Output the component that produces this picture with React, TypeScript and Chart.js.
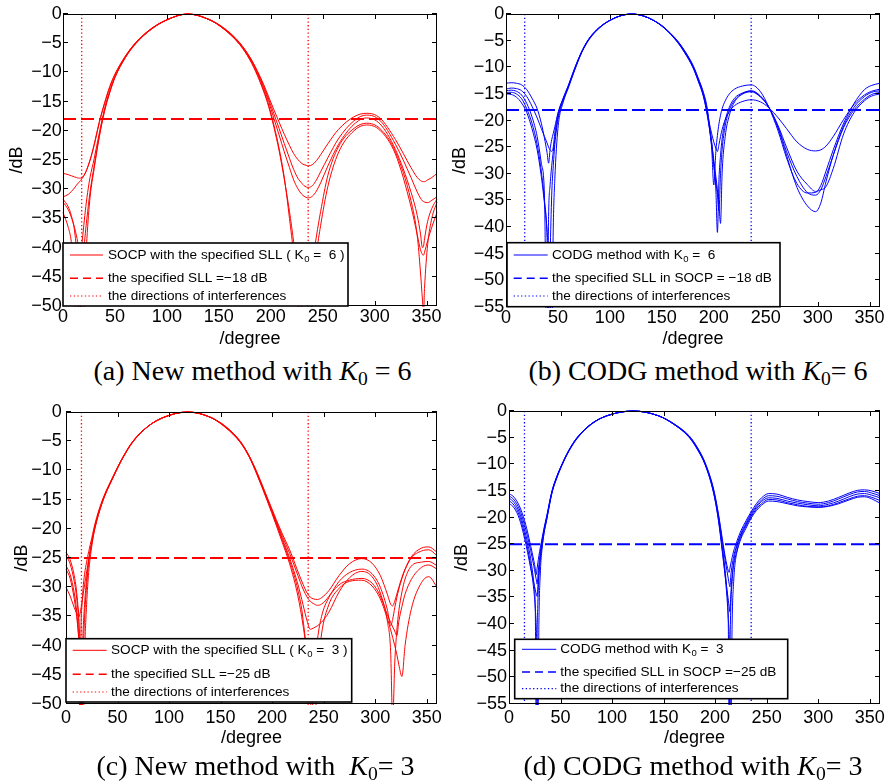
import React, { useEffect, useRef } from 'react';
import { Chart, registerables } from 'chart.js';

Chart.register(...registerables);

const SANS = '"Liberation Sans", Arial, Helvetica, sans-serif';
const SERIF = '"Liberation Serif", "Times New Roman", Times, serif';

// ---------------- data ----------------
const X_TICKS = [0, 50, 100, 150, 200, 250, 300, 350];
const Y_TICKS_50 = [-50, -45, -40, -35, -30, -25, -20, -15, -10, -5, 0];
const Y_TICKS_55 = [-55, -50, -45, -40, -35, -30, -25, -20, -15, -10, -5, 0];

// (a) New method, K0 = 6
const A_DEG = [0, 5, 8, 11, 13, 15, 16, 17, 19, 21, 23, 26, 30, 35, 40, 45, 50, 60, 70, 85, 100, 120, 140, 155, 170, 180, 187, 193, 198, 203, 208, 213, 218, 222, 226, 230, 232, 234, 236, 240, 244, 248, 255, 265, 280, 292, 305, 320, 335, 341, 344, 346, 347, 348, 351, 355, 360];
const A_SOCP_1 = [-27.3, -27.5, -27.7, -27.9, -28.0, -28.1, -28.1, -28.1, -27.9, -27.4, -26.6, -25.0, -22.3, -18.4, -15.2, -12.4, -10.3, -7.2, -4.9, -2.5, -1.0, 0, -0.9, -2.4, -4.9, -7.4, -9.7, -12.0, -14.2, -16.4, -18.5, -20.6, -22.5, -23.9, -24.9, -25.6, -25.8, -25.9, -26.0, -25.8, -25.1, -24.1, -22.2, -19.8, -17.6, -17.0, -17.8, -21.5, -26.3, -28.0, -28.5, -28.7, -28.7, -28.7, -28.4, -28.0, -27.3];
const A_SOCP_2 = [-31.3, -30.9, -30.4, -29.8, -29.3, -28.9, -28.7, -28.5, -28.0, -27.4, -26.6, -25.1, -22.5, -18.6, -15.4, -12.6, -10.4, -7.3, -4.9, -2.5, -1.0, 0, -0.9, -2.5, -5.0, -7.5, -9.9, -12.3, -14.6, -17.1, -19.6, -22.2, -24.7, -26.6, -28.1, -29.0, -29.4, -29.6, -29.7, -29.4, -28.4, -27.0, -24.6, -21.4, -18.3, -17.3, -18.2, -22.3, -28.0, -30.5, -31.5, -32.0, -32.1, -32.2, -32.3, -31.9, -31.3];
const A_SOCP_3 = [-31.7, -33.0, -34.5, -37.0, -40.5, -47.0, -62.0, -50.0, -43.0, -38.5, -35.0, -30.5, -26.0, -20.8, -16.4, -13.3, -10.8, -7.4, -5.0, -2.6, -1.0, 0, -0.9, -2.5, -5.0, -7.6, -10.0, -12.6, -15.0, -17.9, -20.7, -23.6, -26.3, -28.4, -29.9, -30.9, -31.2, -31.4, -31.5, -31.2, -30.3, -28.9, -26.0, -22.4, -18.9, -17.8, -18.8, -23.2, -30.5, -34.5, -37.5, -40.0, -39.8, -38.5, -35.5, -33.3, -31.7];
const A_SOCP_4 = [-32.2, -33.5, -34.8, -36.5, -38.0, -40.0, -41.5, -43.5, -62.0, -46.0, -38.5, -31.5, -26.5, -21.0, -16.7, -13.5, -10.9, -7.5, -5.1, -2.6, -1.0, 0, -0.9, -2.6, -5.2, -7.8, -10.3, -13.0, -15.6, -19.0, -23.0, -28.0, -35.0, -41.0, -48.0, -58.0, -65.0, -57.0, -50.0, -43.0, -38.0, -33.8, -27.6, -22.8, -19.6, -18.7, -19.6, -23.6, -32.0, -38.0, -44.0, -49.0, -51.5, -47.0, -39.5, -35.0, -32.2];
const A_SOCP_5 = [-34.0, -36.5, -39.0, -45.0, -62.0, -47.0, -44.0, -41.5, -38.0, -34.5, -31.5, -28.0, -24.8, -20.3, -16.3, -13.2, -10.8, -7.4, -5.0, -2.6, -1.0, 0, -0.9, -2.6, -5.2, -7.9, -10.5, -13.2, -15.9, -19.4, -23.4, -28.3, -33.8, -39.0, -44.5, -50.0, -53.0, -57.0, -65.0, -48.0, -41.0, -36.2, -29.5, -23.8, -20.0, -19.0, -19.9, -24.0, -33.0, -37.8, -40.3, -41.2, -41.3, -40.8, -38.8, -36.5, -34.0];
const A_SLL = -18;
const A_INTERF = [18, 236];

// (b) CODG method, K0 = 6
const B_DEG = [0, 5, 10, 15, 20, 25, 30, 34, 37, 39.5, 41, 42.5, 44, 45.5, 47, 50, 55, 60, 66, 73, 80, 90, 100, 110, 121, 132, 142, 152, 165, 172, 180, 185, 190, 193.5, 196, 198, 200, 202, 203.5, 205, 206.5, 208, 211, 215, 220, 228, 236, 245, 253, 262, 270, 280, 290, 298, 303, 308, 315, 325, 335, 345, 352, 360];
const B_CODG_1 = [-13.0, -12.9, -13.0, -13.3, -14.2, -15.8, -17.8, -20.5, -23.3, -26.0, -28.0, -25.3, -23.6, -22.4, -21.2, -18.6, -15.8, -13.4, -10.2, -7.0, -4.6, -2.5, -1.2, -0.35, 0, -0.35, -1.2, -2.5, -5.0, -6.9, -9.6, -12.0, -14.7, -17.5, -21.5, -25.3, -32.1, -25.8, -22.8, -20.6, -19.0, -17.8, -16.3, -15.0, -14.1, -13.5, -13.3, -14.6, -17.5, -22.0, -27.0, -31.8, -33.6, -33.5, -32.2, -29.5, -25.5, -20.5, -16.8, -14.2, -13.4, -13.0];
const B_CODG_2 = [-14.1, -13.9, -14.0, -14.4, -15.5, -17.3, -19.5, -21.5, -23.0, -24.2, -25.0, -25.5, -25.8, -25.0, -22.3, -18.8, -15.9, -13.5, -10.3, -7.0, -4.6, -2.5, -1.2, -0.35, 0, -0.35, -1.2, -2.5, -5.1, -7.0, -9.8, -12.2, -14.9, -17.8, -20.7, -22.5, -24.0, -25.2, -25.8, -24.5, -23.0, -21.7, -19.8, -18.3, -17.2, -16.4, -16.1, -16.5, -17.6, -19.5, -21.5, -24.0, -25.4, -25.7, -25.5, -24.8, -23.0, -19.8, -17.0, -15.2, -14.5, -14.1];
const B_CODG_3 = [-14.4, -14.3, -14.5, -15.2, -16.8, -19.3, -23.0, -28.0, -34.0, -65.0, -38.0, -32.0, -28.5, -25.8, -23.5, -19.3, -16.1, -13.6, -10.4, -7.1, -4.7, -2.5, -1.2, -0.35, 0, -0.35, -1.2, -2.5, -5.1, -7.1, -9.9, -12.3, -15.1, -18.2, -21.3, -24.0, -28.0, -33.0, -41.0, -31.0, -26.5, -23.5, -20.0, -17.5, -15.8, -14.8, -14.4, -15.4, -17.5, -21.5, -26.5, -32.5, -36.0, -37.1, -35.5, -31.5, -26.5, -21.0, -17.5, -15.5, -14.7, -14.4];
const B_CODG_4 = [-14.7, -14.7, -15.0, -15.9, -17.8, -20.5, -24.5, -29.5, -35.0, -42.0, -58.0, -45.0, -34.0, -28.5, -24.5, -19.8, -16.3, -13.7, -10.5, -7.1, -4.7, -2.6, -1.2, -0.35, 0, -0.35, -1.2, -2.6, -5.2, -7.2, -10.0, -12.5, -15.3, -18.5, -21.5, -24.3, -27.5, -30.5, -33.0, -36.0, -39.3, -30.0, -23.0, -19.0, -16.5, -15.0, -14.6, -15.6, -17.5, -21.3, -25.8, -30.5, -33.5, -34.0, -33.0, -30.5, -26.5, -21.3, -18.0, -16.0, -15.1, -14.7];
const B_CODG_5 = [-15.0, -15.1, -15.6, -16.7, -18.5, -21.5, -25.5, -30.5, -35.5, -40.5, -45.0, -52.0, -62.0, -40.0, -31.0, -21.5, -16.6, -13.9, -10.6, -7.2, -4.8, -2.6, -1.2, -0.35, 0, -0.35, -1.2, -2.6, -5.3, -7.3, -10.1, -12.6, -15.5, -18.8, -21.8, -24.8, -28.5, -31.5, -34.0, -37.0, -30.0, -25.5, -21.0, -18.0, -16.2, -14.9, -14.5, -15.5, -17.5, -21.0, -25.0, -29.5, -32.0, -33.3, -33.0, -32.4, -29.0, -22.5, -18.5, -16.3, -15.4, -15.0];
const B_SLL = -18;
const B_INTERF = [18, 236];

// (c) New method, K0 = 3
const C_DEG = [0, 4, 8, 10, 11.5, 12.5, 13.5, 14.5, 15.5, 16.5, 18, 20, 22, 25, 28, 35, 46, 55, 65, 80, 95, 118, 140, 155, 169, 178, 185, 195, 204, 210, 217, 225, 230, 234, 237, 240, 244, 248, 255, 265, 275, 287, 297, 305, 312, 315, 317, 319, 321, 323, 326, 329, 335, 345, 352, 360];
const C_SOCP_1 = [-24.0, -25.3, -28.0, -30.3, -33.0, -36.5, -60.0, -38.0, -33.0, -30.3, -27.8, -25.7, -23.9, -21.6, -19.2, -15.2, -10.9, -7.8, -5.0, -2.4, -0.9, 0, -0.9, -2.5, -5.0, -7.6, -10.2, -14.5, -18.4, -20.9, -23.6, -27.3, -29.5, -31.0, -31.7, -32.0, -32.1, -31.8, -30.6, -28.0, -26.0, -25.1, -25.9, -28.0, -31.3, -32.9, -33.2, -32.4, -31.2, -30.0, -28.3, -26.9, -24.8, -23.3, -23.1, -24.0];
const C_SOCP_2 = [-24.6, -26.0, -29.0, -31.3, -33.8, -36.0, -39.5, -45.5, -62.0, -44.0, -35.5, -29.8, -25.8, -22.4, -19.6, -15.4, -11.0, -7.8, -5.0, -2.4, -0.9, 0, -0.9, -2.5, -5.0, -7.6, -10.3, -14.7, -18.7, -21.3, -24.2, -28.0, -30.3, -31.7, -32.4, -32.8, -33.1, -32.9, -31.6, -29.0, -27.5, -26.9, -27.7, -30.0, -34.0, -36.6, -35.5, -33.5, -31.8, -30.3, -28.5, -27.0, -25.0, -23.8, -23.6, -24.6];
const C_SOCP_3 = [-26.3, -27.8, -31.0, -33.5, -36.5, -39.5, -45.0, -60.0, -44.0, -38.0, -33.0, -28.6, -25.5, -22.4, -19.7, -15.5, -11.0, -7.9, -5.0, -2.4, -0.9, 0, -0.9, -2.6, -5.1, -7.7, -10.4, -14.8, -18.9, -21.7, -25.0, -29.5, -33.0, -35.8, -37.2, -37.0, -36.6, -36.0, -34.3, -30.8, -28.4, -27.3, -28.2, -31.0, -36.0, -41.0, -53.0, -43.0, -37.5, -34.0, -30.8, -28.6, -26.4, -25.7, -25.6, -26.3];
const C_SOCP_4 = [-26.9, -28.5, -32.0, -34.5, -37.0, -39.0, -41.5, -44.0, -48.0, -58.0, -42.0, -33.0, -27.5, -23.0, -20.0, -15.6, -11.1, -7.9, -5.1, -2.4, -0.9, 0, -0.9, -2.6, -5.1, -7.7, -10.5, -14.9, -19.1, -22.0, -25.5, -30.5, -35.5, -44.0, -62.0, -47.0, -39.0, -35.0, -31.8, -29.6, -28.8, -28.5, -29.3, -31.5, -34.8, -36.0, -36.8, -37.5, -38.3, -35.8, -33.3, -31.2, -28.7, -26.6, -26.2, -26.9];
const C_SOCP_5 = [-30.0, -31.5, -33.5, -34.3, -34.9, -35.1, -34.6, -33.7, -32.6, -31.4, -29.6, -27.4, -25.2, -22.3, -19.9, -15.6, -11.1, -7.9, -5.1, -2.4, -0.9, 0, -0.9, -2.7, -5.2, -7.8, -10.6, -15.1, -19.4, -22.4, -26.0, -31.5, -36.5, -42.0, -48.0, -58.0, -45.0, -38.0, -33.0, -30.2, -29.0, -28.8, -29.8, -32.0, -35.5, -37.3, -38.6, -40.0, -41.5, -43.3, -45.3, -40.0, -33.8, -29.2, -28.2, -30.0];
const C_SLL = -25;
const C_INTERF = [15, 235];

// (d) CODG method, K0 = 3
const D_DEG = [0, 5, 10, 15, 18, 21, 24, 25.5, 26.5, 27.3, 28, 29, 30.5, 32, 34, 36.5, 41.7, 46, 51.4, 58, 66, 80, 95, 120.5, 145, 160, 175, 183, 190.5, 198.6, 203.4, 207, 209.5, 211.5, 212.8, 213.6, 214.4, 215.2, 216.5, 218, 221, 225, 230, 235, 240, 245, 252, 260, 270, 280, 290, 300, 310, 320, 330, 338, 345, 352, 360];
const D_CODG_1 = [-15.5, -16.2, -17.8, -20.5, -22.7, -25.3, -28.0, -29.6, -30.7, -29.5, -28.5, -27.2, -25.5, -24.0, -22.0, -19.8, -15.0, -12.5, -10.0, -7.4, -5.0, -2.4, -0.9, 0, -0.9, -2.4, -4.7, -6.9, -9.8, -14.7, -19.5, -24.0, -27.0, -29.0, -30.0, -30.3, -29.5, -28.7, -27.5, -26.3, -24.5, -22.5, -20.6, -18.9, -17.4, -16.3, -15.5, -15.6, -16.2, -16.7, -17.0, -17.2, -16.9, -16.2, -15.4, -14.9, -14.8, -15.0, -15.5];
const D_CODG_2 = [-15.9, -16.7, -18.4, -21.3, -23.6, -26.2, -29.0, -30.6, -31.7, -32.5, -31.0, -28.8, -26.3, -24.4, -22.2, -20.0, -15.1, -12.5, -10.0, -7.4, -5.0, -2.4, -0.9, 0, -0.9, -2.4, -4.8, -7.0, -9.9, -14.9, -19.8, -24.5, -27.7, -30.0, -31.5, -32.4, -33.0, -31.0, -29.0, -27.3, -25.2, -23.0, -21.0, -19.2, -17.8, -16.7, -15.9, -16.0, -16.5, -17.0, -17.3, -17.5, -17.2, -16.5, -15.7, -15.2, -15.1, -15.4, -15.9];
const D_CODG_3 = [-16.3, -17.2, -19.0, -22.2, -24.7, -27.7, -32.0, -37.0, -62.0, -42.0, -36.0, -31.0, -27.3, -25.0, -22.5, -20.2, -15.2, -12.6, -10.1, -7.5, -5.1, -2.4, -0.9, 0, -0.9, -2.5, -4.9, -7.1, -10.0, -15.1, -20.2, -25.5, -29.5, -34.0, -40.0, -62.0, -45.0, -37.0, -32.0, -28.5, -25.5, -23.3, -21.3, -19.5, -18.1, -17.0, -16.3, -16.4, -16.9, -17.3, -17.6, -17.8, -17.5, -16.9, -16.1, -15.6, -15.5, -15.8, -16.3];
const D_CODG_4 = [-16.8, -17.7, -19.6, -23.0, -25.7, -29.0, -33.5, -37.0, -41.0, -47.0, -62.0, -40.0, -30.0, -26.0, -23.0, -20.4, -15.3, -12.7, -10.1, -7.5, -5.1, -2.4, -0.9, 0, -0.9, -2.5, -4.9, -7.2, -10.1, -15.3, -20.5, -26.0, -30.5, -35.0, -39.0, -42.0, -48.0, -62.0, -40.0, -32.0, -26.5, -23.7, -21.6, -19.8, -18.4, -17.4, -16.6, -16.7, -17.2, -17.6, -17.9, -18.0, -17.8, -17.2, -16.5, -16.0, -15.9, -16.2, -16.8];
const D_CODG_5 = [-17.3, -18.2, -20.2, -23.8, -26.5, -29.5, -32.3, -33.6, -34.4, -34.8, -33.0, -30.5, -27.5, -25.5, -22.8, -20.5, -15.4, -12.8, -10.2, -7.6, -5.2, -2.5, -0.9, 0, -0.9, -2.5, -5.0, -7.3, -10.2, -15.5, -20.8, -26.5, -30.5, -33.5, -35.5, -36.7, -37.7, -34.5, -31.0, -28.8, -26.5, -24.0, -22.0, -20.1, -18.7, -17.7, -16.9, -17.0, -17.4, -17.8, -18.0, -18.1, -17.9, -17.4, -16.7, -16.2, -16.1, -16.5, -17.3];
const D_SLL = -25;
const D_INTERF = [15, 235];

// legend / caption texts
const A_LEGEND_1 = ['SOCP with the specified SLL ( K', '0', ' =  6 )'];
const A_LEGEND_2 = 'the specified SLL =\u221218 dB';
const B_LEGEND_1 = ['CODG method with K', '0', ' =  6'];
const B_LEGEND_2 = 'the specified SLL in SOCP = \u221218 dB';
const C_LEGEND_1 = ['SOCP with the specified SLL ( K', '0', ' =  3 )'];
const C_LEGEND_2 = 'the specified SLL =\u221225 dB';
const D_LEGEND_1 = ['CODG method with K', '0', ' =  3'];
const D_LEGEND_2 = 'the specified SLL in SOCP =\u221225 dB';
const LEGEND_3 = 'the directions of interferences';

const CAPTION_PREFIX = ['(a) New method with ', '(b) CODG method with ', '(c) New method with  ', '(d) CODG method with '];
const CAPTION_VALUE = [' = 6', '= 6', '= 3', '= 3'];

// ---------------- panel layout (styles only) ----------------
const RED = '#ff0000';
const BLUE = '#0000ff';

const PANELS = [
  {
    key: 'a', deg: A_DEG, curves: [A_SOCP_1, A_SOCP_2, A_SOCP_3, A_SOCP_4, A_SOCP_5], color: RED,
    sll: A_SLL, interf: A_INTERF, yMin: -50, yTicks: Y_TICKS_50,
    box: { left: 0, top: 0, w: 447, h: 355 },
    area: { l: 63, t: 14, r: 437, b: 306 },
    pad: { yTitle: 6.7, yTick: 1.3, xTick: 0.3, xTitle: 5.2 },
    legend: { x0: 63, y0: 243, x1: 348, y1: 306, s0: 70, s1: 103, tx: 108, rows: [255, 278.3, 296] },
    l1: A_LEGEND_1, l2: A_LEGEND_2,
    cap: { cx: 252.5, base: 380 },
  },
  {
    key: 'b', deg: B_DEG, curves: [B_CODG_1, B_CODG_2, B_CODG_3, B_CODG_4, B_CODG_5], color: BLUE,
    sll: B_SLL, interf: B_INTERF, yMin: -55, yTicks: Y_TICKS_55,
    box: { left: 447, top: 0, w: 447, h: 355 },
    area: { l: 59, t: 14, r: 433, b: 307 },
    pad: { yTitle: 2.5, yTick: 1.7, xTick: 0, xTitle: 5.2 },
    legend: { x0: 60, y0: 242.7, x1: 333, y1: 306.7, s0: 66.7, s1: 100.7, tx: 105, rows: [255, 278.3, 296] },
    l1: B_LEGEND_1, l2: B_LEGEND_2,
    cap: { cx: 698, base: 380 },
  },
  {
    key: 'c', deg: C_DEG, curves: [C_SOCP_1, C_SOCP_2, C_SOCP_3, C_SOCP_4, C_SOCP_5], color: RED,
    sll: C_SLL, interf: C_INTERF, yMin: -50, yTicks: Y_TICKS_50,
    box: { left: 0, top: 392, w: 447, h: 360 },
    area: { l: 66, t: 20, r: 437, b: 312 },
    pad: { yTitle: 11.7, yTick: 4.3, xTick: 2.8, xTitle: 3.2 },
    legend: { x0: 66, y0: 246.7, x1: 351.7, y1: 310, s0: 72.7, s1: 106.7, tx: 111, rows: [258.3, 282.3, 300] },
    l1: C_LEGEND_1, l2: C_LEGEND_2,
    cap: { cx: 255.5, base: 775 },
  },
  {
    key: 'd', deg: D_DEG, curves: [D_CODG_1, D_CODG_2, D_CODG_3, D_CODG_4, D_CODG_5], color: BLUE,
    sll: D_SLL, interf: D_INTERF, yMin: -55, yTicks: Y_TICKS_55,
    box: { left: 447, top: 392, w: 447, h: 360 },
    area: { l: 62, t: 19, r: 433, b: 312 },
    pad: { yTitle: 4.2, yTick: 2, xTick: 3.3, xTitle: 3.2 },
    legend: { x0: 67.7, y0: 247.3, x1: 340.7, y1: 306.7, s0: 75, s1: 109.3, tx: 113.3, rows: [257.3, 280, 296.7] },
    l1: D_LEGEND_1, l2: D_LEGEND_2,
    cap: { cx: 693, base: 775 },
  },
];

const SLL_DASH = [13, 5];
const DOT_DASH = [1.3, 2.4];

function fmtTick(v: number) {
  return v < 0 ? '\u2212' + Math.abs(v) : String(v);
}

function makeDecor(p: any) {
  return {
    id: 'decor_' + p.key,
    afterDatasetsDraw(chart: any) {
      const { ctx, chartArea: a, scales } = chart;
      ctx.save();
      ctx.setLineDash([]);
      ctx.strokeStyle = '#000';
      ctx.lineWidth = 1;
      // inward ticks on all four sides
      const L = 5;
      ctx.beginPath();
      for (const t of scales.x.ticks) {
        const x = Math.round(scales.x.getPixelForValue(t.value)) + 0.5;
        ctx.moveTo(x, a.bottom); ctx.lineTo(x, a.bottom - L);
        ctx.moveTo(x, a.top); ctx.lineTo(x, a.top + L);
      }
      for (const t of scales.y.ticks) {
        const y = Math.round(scales.y.getPixelForValue(t.value)) - 0.5;
        ctx.moveTo(a.left, y); ctx.lineTo(a.left + L, y);
        ctx.moveTo(a.right, y); ctx.lineTo(a.right - L, y);
      }
      ctx.stroke();
      // axes box
      ctx.strokeRect(a.left + 0.5, a.top + 0.5, a.right - a.left - 1, a.bottom - a.top - 1);

      // legend
      const g = p.legend;
      ctx.fillStyle = '#fff';
      ctx.fillRect(g.x0, g.y0, g.x1 - g.x0, g.y1 - g.y0);
      ctx.lineWidth = 1.6;
      ctx.strokeStyle = '#000';
      ctx.strokeRect(g.x0, g.y0, g.x1 - g.x0, g.y1 - g.y0);

      const sample = (y: number, dash: number[], w: number) => {
        ctx.save();
        ctx.strokeStyle = p.color;
        ctx.lineWidth = w;
        ctx.setLineDash(dash);
        ctx.beginPath();
        ctx.moveTo(g.s0, y);
        ctx.lineTo(g.s1, y);
        ctx.stroke();
        ctx.restore();
      };
      sample(g.rows[0], [], 1);
      sample(g.rows[1], [8, 5], 1.5);
      sample(g.rows[2], DOT_DASH, 1.2);

      ctx.fillStyle = '#000';
      ctx.textBaseline = 'middle';
      ctx.textAlign = 'left';
      const mainFont = '13.6px ' + SANS;
      const subFont = '9.5px ' + SANS;
      ctx.font = mainFont;
      let x = g.tx;
      ctx.fillText(p.l1[0], x, g.rows[0]);
      x += ctx.measureText(p.l1[0]).width + 0.5;
      ctx.font = subFont;
      ctx.fillText(p.l1[1], x, g.rows[0] + 4.5);
      x += ctx.measureText(p.l1[1]).width;
      ctx.font = mainFont;
      ctx.fillText(p.l1[2], x, g.rows[0]);
      ctx.fillText(p.l2, g.tx, g.rows[1]);
      ctx.fillText(LEGEND_3, g.tx, g.rows[2]);
      ctx.restore();
    },
  };
}

function buildConfig(p: any) {
  const curveSets = p.curves.map((vals: number[]) => ({
    data: p.deg.map((d: number, i: number) => ({ x: d, y: vals[i] })),
    borderColor: p.color,
    borderWidth: 1,
    pointRadius: 0,
    fill: false,
    cubicInterpolationMode: 'monotone',
    clip: 1,
  }));
  const sllSet = {
    data: [{ x: 0, y: p.sll }, { x: 360, y: p.sll }],
    borderColor: p.color,
    borderWidth: 2,
    borderDash: SLL_DASH,
    pointRadius: 0,
    fill: false,
    tension: 0,
    clip: 1,
  };
  const interfSets = p.interf.map((d: number) => ({
    data: [{ x: d, y: 0 }, { x: d, y: p.yMin }],
    borderColor: p.color,
    borderWidth: 1.3,
    borderDash: DOT_DASH,
    pointRadius: 0,
    fill: false,
    tension: 0,
    clip: 1,
  }));
  const tickFont = { family: SANS, size: 18 };
  return {
    type: 'line',
    data: { datasets: [...interfSets, sllSet, ...curveSets] },
    options: {
      animation: false,
      responsive: false,
      events: [],
      layout: { padding: { left: 0, top: p.area.t, right: p.box.w - p.area.r, bottom: 0 } },
      plugins: { legend: { display: false }, tooltip: { enabled: false }, title: { display: false } },
      scales: {
        x: {
          type: 'linear',
          min: 0,
          max: 360,
          grid: { display: false, drawTicks: false },
          border: { display: false },
          afterBuildTicks: (s: any) => { s.ticks = X_TICKS.map((v) => ({ value: v })); },
          afterFit: (s: any) => { s.height = p.box.h - p.area.b; },
          ticks: { font: tickFont, color: '#000', padding: p.pad.xTick, maxRotation: 0, autoSkip: false, callback: (v: any) => fmtTick(Number(v)) },
          title: { display: true, text: '/degree', color: '#000', font: tickFont, padding: { top: 0, bottom: p.pad.xTitle } },
        },
        y: {
          type: 'linear',
          min: p.yMin,
          max: 0,
          grid: { display: false, drawTicks: false },
          border: { display: false },
          afterBuildTicks: (s: any) => { s.ticks = p.yTicks.map((v: number) => ({ value: v })); },
          afterFit: (s: any) => { s.width = p.area.l; },
          ticks: { font: tickFont, color: '#000', padding: p.pad.yTick, autoSkip: false, callback: (v: any) => fmtTick(Number(v)) },
          title: { display: true, text: '/dB', color: '#000', font: tickFont, padding: { top: p.pad.yTitle, bottom: 0 } },
        },
      },
    },
    plugins: [makeDecor(p)],
  };
}

function PanelChart({ p }: { p: any }) {
  const ref = useRef<HTMLCanvasElement | null>(null);
  useEffect(() => {
    if (!ref.current) return;
    const chart = new Chart(ref.current, buildConfig(p) as any);
    return () => chart.destroy();
  }, [p]);
  return (
    <canvas
      ref={ref}
      width={p.box.w}
      height={p.box.h}
      style={{ position: 'absolute', left: p.box.left, top: p.box.top, width: p.box.w, height: p.box.h }}
    />
  );
}

function Caption({ i, p }: { i: number; p: any }) {
  const fs = 28;
  const lh = 32;
  const top = p.cap.base - ((lh - fs * 1.107) / 2 + fs * 0.891);
  return (
    <div
      style={{
        position: 'absolute', left: p.cap.cx - 230, width: 460, top,
        textAlign: 'center', fontFamily: SERIF, fontSize: fs, lineHeight: lh + 'px',
        color: '#000', whiteSpace: 'pre',
      }}
    >
      {CAPTION_PREFIX[i]}
      <i>K</i>
      <span style={{ fontSize: '0.7em', position: 'relative', top: '0.3em' }}>0</span>
      {CAPTION_VALUE[i]}
    </div>
  );
}

export default function App() {
  return (
    <div style={{ position: 'absolute', left: 0, top: 0, width: 894, height: 784, background: '#fff' }}>
      {PANELS.map((p) => <PanelChart key={p.key} p={p} />)}
      {PANELS.map((p, i) => <Caption key={'c' + p.key} i={i} p={p} />)}
    </div>
  );
}
